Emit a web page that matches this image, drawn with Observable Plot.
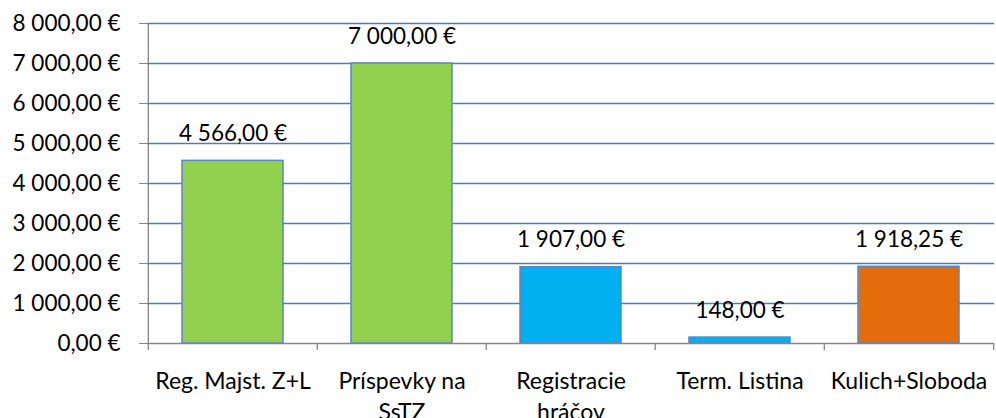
<!DOCTYPE html>
<html>
<head>
<meta charset="utf-8">
<script src="https://cdn.jsdelivr.net/npm/d3@7"></script>
<script src="https://cdn.jsdelivr.net/npm/@observablehq/plot@0.6"></script>
<style>
  html, body { margin: 0; padding: 0; background: #fff; }
</style>
</head>
<body>
<div id="chart"></div>
<script>
const categories = ["Reg. Majst. Z+L", "Príspevky na SsTZ", "Registracie hráčov", "Term. Listina", "Kulich+Sloboda"];
const tickLabels = ["Reg. Majst. Z+L", "Príspevky na\nSsTZ", "Registracie\nhráčov", "Term. Listina", "Kulich+Sloboda"];
const values = [4566, 7000, 1907, 148, 1918.25];
const colors = ["#92D050", "#92D050", "#00B0F0", "#00B0F0", "#E46C0A"];
const yTicks = [0, 1000, 2000, 3000, 4000, 5000, 6000, 7000, 8000];

const data = categories.map((c, i) => ({category: c, value: values[i]}));

const locale = d3.formatLocale({decimal: ",", thousands: "\u00a0", grouping: [3], currency: ["", "\u00a0€"]});
const fmt = locale.format("$,.2f");

const W = 996, H = 418, ML = 147, MR = 2, MT = 23, MB = 75;
const step = (W - ML - MR) / categories.length;
const boundaries = categories.map((c, i) => ({category: c, top: i === 0 ? 8000 : 0, side: -1}))
  .concat([{category: categories[categories.length - 1], top: 0, side: 1}]);

const chart = Plot.plot({
  width: W, height: H,
  marginLeft: ML, marginRight: MR, marginTop: MT, marginBottom: MB,
  style: {fontFamily: "Lato, sans-serif", fontSize: "22px", color: "#000", background: "#fff"},
  x: {domain: categories, paddingInner: 0.4, paddingOuter: 0.2},
  y: {domain: [0, 8000]},
  color: {domain: categories, range: colors},
  marks: [
    Plot.gridY(yTicks.filter(d => d > 0), {stroke: "#4A7EBB", strokeOpacity: 1, strokeWidth: 1.3}),
    Plot.barY(data, {x: "category", y: "value", fill: "category", stroke: "#5B86C4", strokeWidth: 1.5}),
    Plot.ruleY([0], {stroke: "#868686", strokeWidth: 1.3}),
    Plot.ruleX(boundaries.filter(d => d.side < 0), {x: "category", y1: "top", y2: 0, dx: -step / 2, insetBottom: -7, stroke: "#868686", strokeWidth: 1.3}),
    Plot.ruleX(boundaries.filter(d => d.side > 0), {x: "category", y1: "top", y2: 0, dx: step / 2, insetBottom: -7, stroke: "#868686", strokeWidth: 1.3}),
    Plot.axisY({ticks: yTicks, tickFormat: fmt, tickSize: 8, tickPadding: 19, stroke: "#868686", strokeOpacity: 1, fontSize: 22.5, label: null}),
    Plot.axisX({tickSize: 0, tickPadding: 23, tickFormat: (d) => tickLabels[categories.indexOf(d)], fontSize: 23, lineHeight: 1.35, label: null}),
    Plot.text(data, {x: "category", y: "value", text: d => fmt(d.value), dy: -27, fontSize: 22.5, fill: "#000"})
  ]
});
document.getElementById("chart").appendChild(chart);
</script>
</body>
</html>
